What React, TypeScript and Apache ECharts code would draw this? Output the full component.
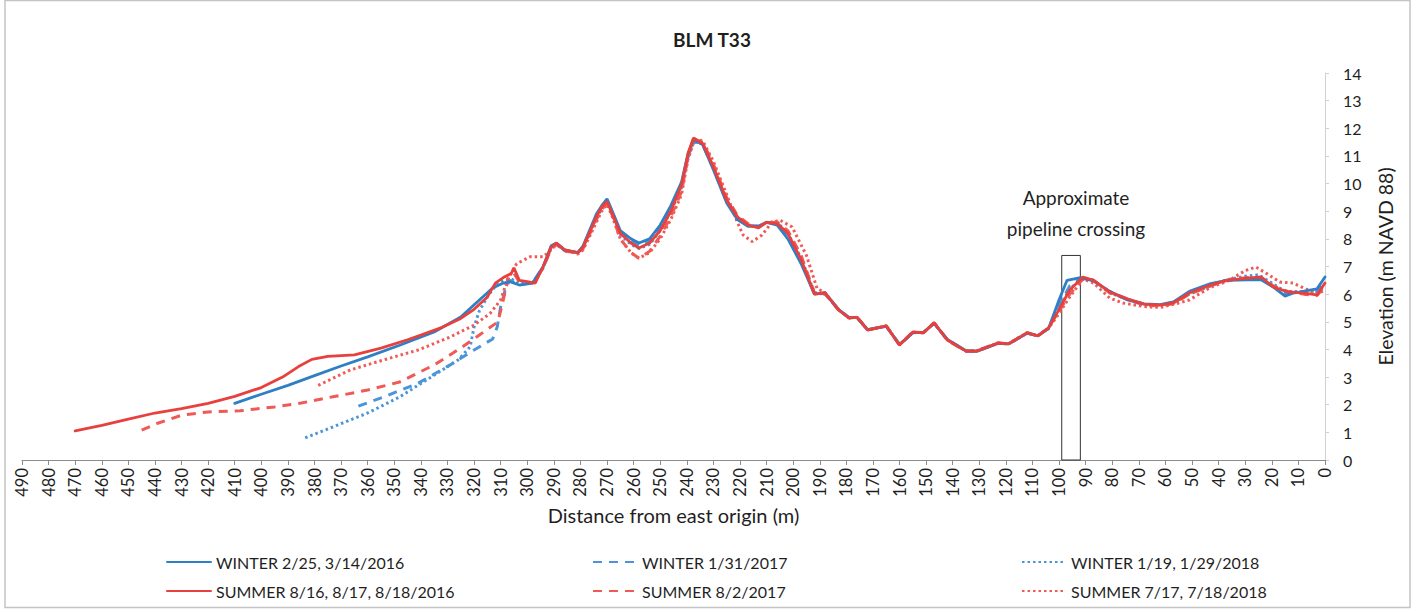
import React, { useEffect, useRef } from 'react';
import * as echarts from 'echarts';

const chartTitle = 'BLM T33';
const xAxisName = 'Distance from east origin (m)';
const yAxisName = 'Elevation (m NAVD 88)';
const annotationText = 'Approximate\npipeline crossing';

const seriesNames = [
  'WINTER 2/25, 3/14/2016',
  'WINTER 1/31/2017',
  'WINTER 1/19, 1/29/2018',
  'SUMMER 8/16, 8/17, 8/18/2016',
  'SUMMER 8/2/2017',
  'SUMMER 7/17, 7/18/2018',
];

// [distance from east origin (m), elevation (m)]
const winter2016: number[][] = [
  [410, 2.05], [400, 2.38], [390, 2.7], [380, 3.05], [370, 3.4], [360, 3.73], [348, 4.15], [335, 4.63],
  [325, 5.17], [318, 5.79], [313, 6.22], [309, 6.4], [306.5, 6.45], [303, 6.33], [298, 6.4], [294, 7.0],
  [291, 7.75], [289, 7.85], [286, 7.6], [281, 7.5], [279, 7.75], [274, 8.9], [272, 9.2], [270, 9.45],
  [268, 9.0], [265, 8.3], [261, 8.0], [258, 7.85], [254, 8.0], [250, 8.5], [246, 9.2], [242, 10.05],
  [239.5, 11.1], [237.5, 11.6], [234, 11.4], [230, 10.5], [225, 9.3], [221, 8.7], [217, 8.45], [213, 8.45],
  [210, 8.6], [206, 8.5], [202, 8.0], [197, 7.1], [192, 6.0], [188, 6.05], [183, 5.45], [179, 5.15],
  [176, 5.15], [172, 4.72], [165, 4.83], [160, 4.18], [155, 4.6], [151, 4.62], [147, 4.94], [142, 4.36],
  [135, 3.95], [131, 3.93], [123, 4.22], [119, 4.2], [112, 4.58], [108, 4.5], [104, 4.75], [100, 5.8],
  [97, 6.5], [92, 6.6], [87, 6.48], [81, 6.1], [74, 5.78], [68, 5.65], [62, 5.62], [57, 5.72], [51, 6.1],
  [43, 6.38], [37, 6.5], [29, 6.52], [24, 6.52], [19.5, 6.26], [15, 5.93], [12, 6.04], [3, 6.19], [0, 6.62],
];

const winter2017: number[][] = [
  [363.5, 1.95], [354, 2.28], [341, 2.78], [329, 3.44], [320, 3.98], [313, 4.38], [311.3, 4.81], [310, 5.54],
  [308, 6.26], [306.5, 6.5], [303, 6.35], [298, 6.4], [294, 6.98], [291, 7.7], [289, 7.82], [286, 7.6],
  [281, 7.5], [279, 7.7], [274, 8.8], [272, 9.15], [270, 9.4], [268, 8.95], [265, 8.2], [261, 7.9],
  [258, 7.75], [254, 7.9], [250, 8.4], [246, 9.1], [242, 9.95], [239.5, 11.0], [237.5, 11.55], [234, 11.4],
  [230, 10.55], [225, 9.35], [221, 8.75], [217, 8.5], [213, 8.45], [210, 8.6], [206, 8.55], [202, 8.1],
  [197, 7.2], [192, 6.0], [188, 6.03], [183, 5.44], [179, 5.15], [176, 5.16], [172, 4.71], [165, 4.84],
  [160, 4.17], [155, 4.61], [151, 4.61], [147, 4.95], [142, 4.35], [135, 3.95], [131, 3.94], [123, 4.22],
  [119, 4.2], [112, 4.59], [108, 4.5], [104, 4.76], [100, 5.6], [96, 6.3], [91, 6.6], [87, 6.48], [81, 6.1],
  [74, 5.8], [68, 5.64], [62, 5.6], [57, 5.7], [51, 6.05], [43, 6.35], [37, 6.5], [29, 6.55], [24, 6.55],
  [19.5, 6.28], [15, 6.0], [10, 6.05], [3, 6.1], [0, 6.5],
];

const winter2018: number[][] = [
  [383.5, 0.8], [373, 1.2], [360, 1.7], [348, 2.28], [335, 3.07], [326, 3.62], [321.5, 4.09], [320, 4.81],
  [318, 5.4], [315, 5.9], [312, 6.3], [309, 6.5], [306, 6.55], [303, 6.4], [298, 6.4], [294, 6.95],
  [291, 7.7], [289, 7.8], [286, 7.58], [281, 7.5], [279, 7.7], [274, 8.75], [272, 9.1], [270, 9.35],
  [268, 8.9], [265, 8.15], [261, 7.8], [258, 7.65], [254, 7.8], [250, 8.3], [246, 9.0], [242, 9.85],
  [239.5, 10.95], [237.5, 11.5], [234, 11.45], [230, 10.6], [225, 9.4], [221, 8.8], [217, 8.5], [213, 8.45],
  [210, 8.6], [206, 8.6], [202, 8.2], [197, 7.3], [192, 6.05], [188, 6.02], [183, 5.44], [179, 5.15],
  [176, 5.16], [172, 4.7], [165, 4.85], [160, 4.17], [155, 4.62], [151, 4.6], [147, 4.95], [142, 4.35],
  [135, 3.94], [131, 3.94], [123, 4.23], [119, 4.2], [112, 4.6], [108, 4.49], [104, 4.77], [100, 5.5],
  [96, 6.2], [91, 6.58], [87, 6.5], [81, 6.05], [74, 5.8], [68, 5.62], [62, 5.6], [57, 5.7], [51, 6.0],
  [43, 6.3], [37, 6.52], [30, 6.65], [25, 6.7], [20, 6.4], [15, 6.1], [10, 6.1], [3, 6.05], [0, 6.3],
];

const summer2016: number[][] = [
  [470, 1.05], [460, 1.25], [450, 1.48], [440, 1.7], [430, 1.86], [420, 2.05], [410, 2.3], [400, 2.62],
  [392, 3.0], [386, 3.38], [381, 3.64], [375, 3.75], [365, 3.8], [355, 4.05], [345, 4.35], [340, 4.52],
  [332, 4.8], [325, 5.12], [320, 5.45], [315, 5.9], [312, 6.4], [309, 6.6], [306, 6.75], [305, 6.95],
  [303, 6.5], [300, 6.45], [297, 6.4], [294, 7.0], [291, 7.7], [289, 7.85], [286, 7.6], [281, 7.5],
  [279, 7.7], [274, 8.8], [272, 9.15], [270, 9.35], [268, 8.9], [265, 8.2], [261, 7.85], [258, 7.67],
  [254, 7.85], [250, 8.3], [246, 9.0], [242, 9.95], [239.5, 11.1], [237.5, 11.65], [234, 11.45], [230, 10.6],
  [225, 9.4], [221, 8.8], [217, 8.5], [213, 8.4], [210, 8.6], [206, 8.55], [202, 8.2], [197, 7.25],
  [192, 6.0], [188, 6.05], [183, 5.43], [179, 5.14], [176, 5.17], [172, 4.7], [165, 4.85], [160, 4.16],
  [155, 4.63], [151, 4.6], [147, 4.96], [142, 4.34], [135, 3.94], [131, 3.94], [123, 4.23], [119, 4.2],
  [112, 4.6], [108, 4.49], [104, 4.77], [100, 5.45], [96, 6.15], [91, 6.62], [87, 6.5], [81, 6.08],
  [74, 5.82], [68, 5.64], [62, 5.6], [57, 5.68], [51, 6.04], [43, 6.33], [37, 6.5], [29, 6.58], [24, 6.62],
  [19.5, 6.26], [14, 6.08], [8, 6.04], [3, 5.97], [0, 6.4],
];

const summer2017: number[][] = [
  [445, 1.08], [439, 1.33], [430, 1.62], [420, 1.74], [408, 1.78], [395, 1.92], [385, 2.06], [373, 2.29],
  [360, 2.53], [348, 2.82], [335, 3.44], [325, 4.05], [318, 4.52], [311, 5.0], [309, 5.8], [307, 6.62],
  [305, 6.75], [303, 6.45], [298, 6.4], [294, 6.95], [291, 7.65], [289, 7.8], [286, 7.55], [281, 7.5],
  [279, 7.65], [274, 8.7], [272, 9.05], [270, 9.3], [268, 8.85], [265, 8.0], [261, 7.5], [258, 7.3],
  [254, 7.55], [250, 8.1], [246, 8.8], [242, 9.7], [239.5, 11.0], [237.5, 11.6], [234, 11.5], [230, 10.7],
  [225, 9.5], [221, 8.85], [217, 8.55], [213, 8.45], [210, 8.6], [206, 8.6], [202, 8.3], [197, 7.4],
  [192, 6.05], [188, 6.0], [183, 5.45], [179, 5.13], [176, 5.18], [172, 4.7], [165, 4.86], [160, 4.15],
  [155, 4.64], [151, 4.6], [147, 4.97], [142, 4.33], [135, 3.93], [131, 3.95], [123, 4.24], [119, 4.2],
  [112, 4.61], [108, 4.48], [104, 4.78], [100, 5.4], [96, 6.0], [91, 6.55], [87, 6.5], [81, 6.05],
  [74, 5.8], [68, 5.6], [62, 5.58], [57, 5.65], [51, 6.0], [43, 6.3], [37, 6.5], [29, 6.6], [24, 6.6],
  [19.5, 6.3], [14, 6.1], [8, 6.0], [3, 5.95], [0, 6.3],
];

const summer2018: number[][] = [
  [378.6, 2.7], [366.5, 3.26], [354, 3.62], [341, 3.98], [329, 4.45], [320, 4.88], [314, 5.3], [310, 5.79],
  [307.5, 6.5], [304, 7.1], [299, 7.35], [294, 7.35], [291, 7.6], [289, 7.8], [286, 7.6], [281, 7.45],
  [279, 7.6], [274, 8.6], [272, 9.0], [270, 9.25], [268, 8.8], [265, 8.0], [261, 7.5], [258, 7.3],
  [254, 7.5], [250, 8.0], [246, 8.7], [242, 9.6], [239.5, 10.9], [237, 11.6], [234, 11.55], [230, 10.8],
  [225, 9.6], [221, 8.6], [218.8, 8.14], [215.4, 7.9], [211.7, 8.14], [208, 8.6], [205, 8.68], [200.4, 8.43],
  [195, 7.4], [191, 6.2], [188, 6.05], [183, 5.45], [179, 5.15], [176, 5.16], [172, 4.71], [165, 4.85],
  [160, 4.17], [155, 4.62], [151, 4.61], [147, 4.95], [142, 4.35], [135, 3.94], [131, 3.95], [123, 4.22],
  [119, 4.21], [112, 4.6], [108, 4.5], [104, 4.76], [100, 5.3], [96, 5.9], [91, 6.55], [87, 6.4],
  [81, 5.86], [76, 5.68], [68, 5.55], [62, 5.52], [55, 5.68], [51, 5.79], [43, 6.25], [37, 6.45], [30, 6.85],
  [26, 6.98], [22, 6.75], [17, 6.44], [12, 6.4], [3, 6.0], [0, 6.15],
];

// pipeline crossing box: distance range and height (elevation)
const pipelineFrom = 99;
const pipelineTo = 92;
const pipelineTop = 7.4;

const BLUE = '#2f7fc4';
const BLUE_LIGHT = '#4b95d8';
const RED = '#e8403d';
const RED_LIGHT = '#ef5a56';
const FONT = 'Lato, "Open Sans", sans-serif';
const TEXT = '#1f1f1f';

export default function App() {
  const ref = useRef<HTMLDivElement>(null);
  useEffect(() => {
    const chart = echarts.init(ref.current!, null, { renderer: 'svg' });
    const mk = (name: string, data: number[][], color: string, type: any, width: number, extra: any = {}) => ({
      name,
      type: 'line',
      data,
      showSymbol: false,
      symbol: 'none',
      smooth: false,
      lineStyle: { color, width, type, cap: type === 'solid' ? 'round' : 'butt' },
      itemStyle: { color },
      ...extra,
    });
    const series = [
      mk(seriesNames[1], winter2017, BLUE_LIGHT, [9, 7], 3),
      mk(seriesNames[2], winter2018, BLUE_LIGHT, [2.5, 3], 3),
      mk(seriesNames[4], summer2017, RED_LIGHT, [9, 7], 3),
      mk(seriesNames[5], summer2018, RED_LIGHT, [2.5, 3], 3),
      mk(seriesNames[0], winter2016, BLUE, 'solid', 2.8),
      mk(seriesNames[3], summer2016, RED, 'solid', 2.8, {
        markArea: {
          silent: true,
          itemStyle: { color: 'rgba(0,0,0,0)', borderColor: '#333', borderWidth: 1 },
          data: [[{ xAxis: pipelineFrom, yAxis: 0 }, { xAxis: pipelineTo, yAxis: pipelineTop }]],
        },
      }),
    ];
    const legendPos = [
      { name: seriesNames[0], left: 166, top: 554 },
      { name: seriesNames[1], left: 592, top: 554 },
      { name: seriesNames[2], left: 1021, top: 554 },
      { name: seriesNames[3], left: 166, top: 583 },
      { name: seriesNames[4], left: 592, top: 583 },
      { name: seriesNames[5], left: 1021, top: 583 },
    ];
    chart.setOption({
      animation: false,
      backgroundColor: '#ffffff',
      title: {
        text: chartTitle,
        left: 707,
        textAlign: 'center',
        top: 25,
        textStyle: { fontFamily: FONT, fontSize: 19, fontWeight: 'bold', color: TEXT },
      },
      grid: { left: 22, right: 92, top: 73, bottom: 152, containLabel: false },
      legend: legendPos.map((l) => ({
        data: [l.name],
        left: l.left,
        top: l.top,
        padding: 0,
        itemWidth: 44,
        itemHeight: 14,
        selectedMode: false,
        itemStyle: { opacity: 0 },
        textStyle: { fontFamily: FONT, fontSize: 16, color: TEXT },
      })),
      xAxis: {
        type: 'value',
        inverse: true,
        min: 0,
        max: 490,
        interval: 10,
        name: xAxisName,
        nameLocation: 'middle',
        nameGap: 42,
        nameTextStyle: { fontFamily: FONT, fontSize: 20, color: TEXT },
        axisLine: { show: true, lineStyle: { color: '#8c8c8c', width: 1 } },
        axisTick: { show: true, length: 5, lineStyle: { color: '#8c8c8c' } },
        axisLabel: { rotate: 90, margin: 8, fontFamily: FONT, fontSize: 16.5, color: TEXT },
        splitLine: { show: false },
      },
      yAxis: {
        type: 'value',
        position: 'right',
        min: 0,
        max: 14,
        interval: 1,
        name: yAxisName,
        nameLocation: 'middle',
        nameRotate: 90,
        nameGap: 50,
        nameTextStyle: { fontFamily: FONT, fontSize: 19.5, color: TEXT },
        axisLine: { show: true, lineStyle: { color: '#d0d0d0', width: 1 } },
        axisTick: { show: true, length: 4, lineStyle: { color: '#d0d0d0' } },
        axisLabel: { margin: 18, fontFamily: FONT, fontSize: 16, color: TEXT },
        splitLine: { show: false },
      },
      graphic: [
        {
          type: 'rect',
          silent: true,
          shape: { x: 5, y: 0.5, width: 1405, height: 607 },
          style: { fill: 'none', stroke: '#c4c4c4', lineWidth: 1.5 },
        },
        {
          type: 'text',
          silent: true,
          x: 1076,
          y: 213,
          style: {
            text: annotationText,
            fontFamily: FONT,
            fontSize: 19,
            lineHeight: 31,
            fill: TEXT,
            align: 'center',
            verticalAlign: 'middle',
          },
        },
      ],
      series,
    });
    return () => chart.dispose();
  }, []);
  return (
    <div
      ref={ref}
      style={{ position: 'fixed', left: 0, top: 0, width: 1417, height: 612, background: '#fff' }}
    />
  );
}
